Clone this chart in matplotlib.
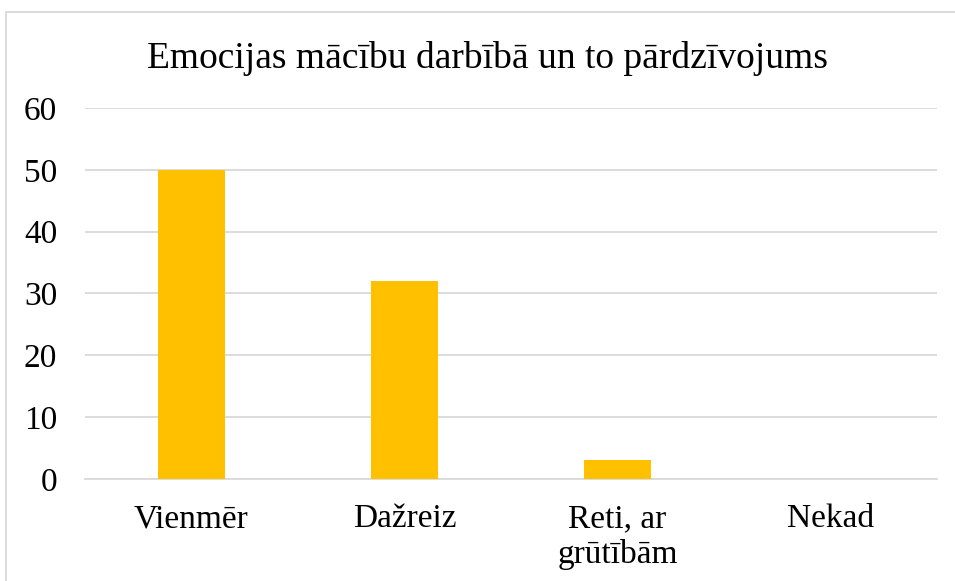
import numpy as np
import matplotlib.pyplot as plt
from matplotlib.patches import Rectangle

# chart data
categories = ['Vienmēr', 'Dažreiz', 'Reti, ar\ngrūtībām', 'Nekad']
values = [50, 32, 3, 0]
yticks = [0, 10, 20, 30, 40, 50, 60]

plt.rcParams['font.family'] = ['Liberation Serif', 'DejaVu Serif']

fig = plt.figure(figsize=(9.55, 5.81), dpi=100)
ax = fig.add_axes([0.089, 0.1756, 0.892, 0.6386])

x = np.arange(len(categories))
ax.bar(x, values, width=0.315, color='#FFC000', zorder=3)

ax.set_xlim(-0.5, len(categories) - 0.5)
ax.set_ylim(0, 60)
ax.set_yticks(yticks)
ax.set_xticks(x)
ax.set_xticklabels(categories, linespacing=1.2)
ax.grid(axis='y', color='#D9D9D9', linewidth=1.3, zorder=0)
ax.tick_params(axis='y', length=0, pad=20, labelsize=24)
ax.tick_params(axis='x', length=0, pad=18, labelsize=24)
for side in ['top', 'right', 'left']:
    ax.spines[side].set_visible(False)
ax.spines['bottom'].set_color('#D9D9D9')
ax.spines['bottom'].set_linewidth(1.3)

fig.text(0.51, 0.899, 'Emocijas mācību darbībā un to pārdzīvojums',
         ha='center', va='center', fontsize=27)

# light frame around the chart
fig.patches.append(Rectangle((0.006, -0.02), 1.0, 1.0, transform=fig.transFigure,
                             fill=False, edgecolor='#D9D9D9', linewidth=1.3))

fig.savefig('out.png', dpi=100)
